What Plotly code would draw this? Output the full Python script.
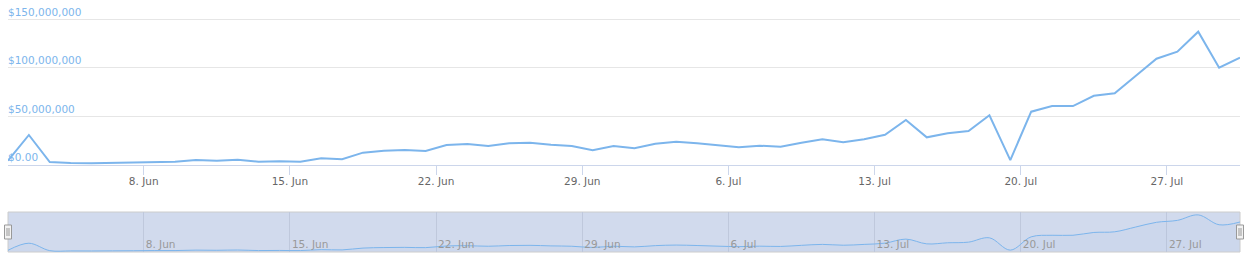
import pandas as pd
import plotly.graph_objects as go

# Daily values (USD), 1 Jun - 30 Jul, sampled at 12:00 each day
dates = pd.date_range("2015-06-01 12:00", periods=60, freq="D")
values_musd = [
    4.5, 30.9, 3.1, 2.1, 1.9, 2.4, 2.8, 3.4, 3.4, 5.1,
    4.4, 5.5, 3.4, 3.8, 3.4, 6.9, 5.9, 12.7, 14.7, 15.4,
    14.4, 20.6, 21.6, 19.6, 22.3, 23.0, 20.9, 19.6, 15.1, 19.6,
    17.2, 21.9, 24.0, 22.3, 19.9, 18.2, 19.9, 18.8, 23.0, 26.5,
    23.4, 26.5, 31.2, 46.3, 28.5, 32.6, 35.0, 51.2, 5.1, 54.9,
    60.7, 60.7, 71.3, 73.8, 91.6, 109.4, 116.6, 137.2, 100.2, 110.5,
]
values = [v * 1e6 for v in values_musd]

x_tick_dates = ["2015-06-08", "2015-06-15", "2015-06-22", "2015-06-29",
                "2015-07-06", "2015-07-13", "2015-07-20", "2015-07-27"]
x_tick_labels = ["8. Jun", "15. Jun", "22. Jun", "29. Jun",
                 "6. Jul", "13. Jul", "20. Jul", "27. Jul"]
y_tick_values = [0, 50e6, 100e6, 150e6]
y_tick_labels = ["$0.00", "$50,000,000", "$100,000,000", "$150,000,000"]

LINE = "#7cb5ec"
FONT = "DejaVu Sans, Verdana, sans-serif"
FS = 10.5
x_range = [dates[0], dates[-1]]

fig = go.Figure()
fig.add_trace(go.Scatter(x=dates, y=values, mode="lines",
                         line=dict(color=LINE, width=2),
                         xaxis="x", yaxis="y", hoverinfo="skip"))
fig.add_trace(go.Scatter(x=dates, y=values, mode="lines",
                         line=dict(color=LINE, width=1, shape="spline", smoothing=1),
                         fill="tozeroy", fillcolor="rgba(124,181,236,0.05)",
                         xaxis="x2", yaxis="y2", hoverinfo="skip"))

shapes = [
    dict(type="rect", xref="x2 domain", yref="y2 domain", x0=0, x1=1, y0=0, y1=1,
         fillcolor="rgba(102,133,194,0.3)", line=dict(color="#cccccc", width=1),
         layer="below"),
]
for anchor in (0, 1):
    shapes.append(dict(type="rect", xref="x2 domain", yref="y2 domain",
                       xsizemode="pixel", xanchor=anchor, x0=-3.5, x1=3.5,
                       ysizemode="pixel", yanchor=0.5, y0=-7, y1=7,
                       fillcolor="#f2f2f2", line=dict(color="#999999", width=1),
                       layer="above"))
    for dx in (-1, 1):
        shapes.append(dict(type="line", xref="x2 domain", yref="y2 domain",
                           xsizemode="pixel", xanchor=anchor, x0=dx, x1=dx,
                           ysizemode="pixel", yanchor=0.5, y0=-4, y1=4,
                           line=dict(color="#999999", width=1), layer="above"))

fig.update_layout(
    width=1250, height=268,
    margin=dict(l=8, r=10, t=5, b=16, pad=0),
    paper_bgcolor="white", plot_bgcolor="white",
    showlegend=False,
    font=dict(family=FONT, size=FS, color="#666666"),
    xaxis=dict(domain=[0, 1], anchor="y", range=x_range, type="date",
               tickvals=x_tick_dates, ticktext=x_tick_labels,
               ticks="outside", ticklen=9, tickcolor="#ccd6eb", tickwidth=1,
               ticklabelstandoff=-3,
               showline=True, linecolor="#ccd6eb", linewidth=1,
               showgrid=False, zeroline=False,
               tickfont=dict(family=FONT, size=FS, color="#666666")),
    yaxis=dict(domain=[0.3522, 1], anchor="x", range=[0, 164.7e6],
               tickvals=y_tick_values, ticktext=y_tick_labels,
               ticklabelposition="inside top", ticks="",
               ticklabelstandoff=-3,
               showgrid=True, gridcolor="#e6e6e6", gridwidth=1,
               zeroline=False, showline=False,
               tickfont=dict(family=FONT, size=FS, color=LINE)),
    xaxis2=dict(domain=[0, 1], anchor="y2", range=x_range, type="date",
                tickvals=x_tick_dates, ticktext=x_tick_labels,
                ticklabelposition="inside right", ticks="",
                ticklabelstandoff=-4, ticklabelshift=2,
                showgrid=True, gridcolor="#bfc8dc", gridwidth=1,
                showline=False, zeroline=False,
                tickfont=dict(family=FONT, size=FS, color="#999999")),
    yaxis2=dict(domain=[0, 0.1619], anchor="x2", range=[-2e6, 148e6],
                visible=False, showgrid=False, zeroline=False),
    shapes=shapes,
)

fig.write_html("out.html")
